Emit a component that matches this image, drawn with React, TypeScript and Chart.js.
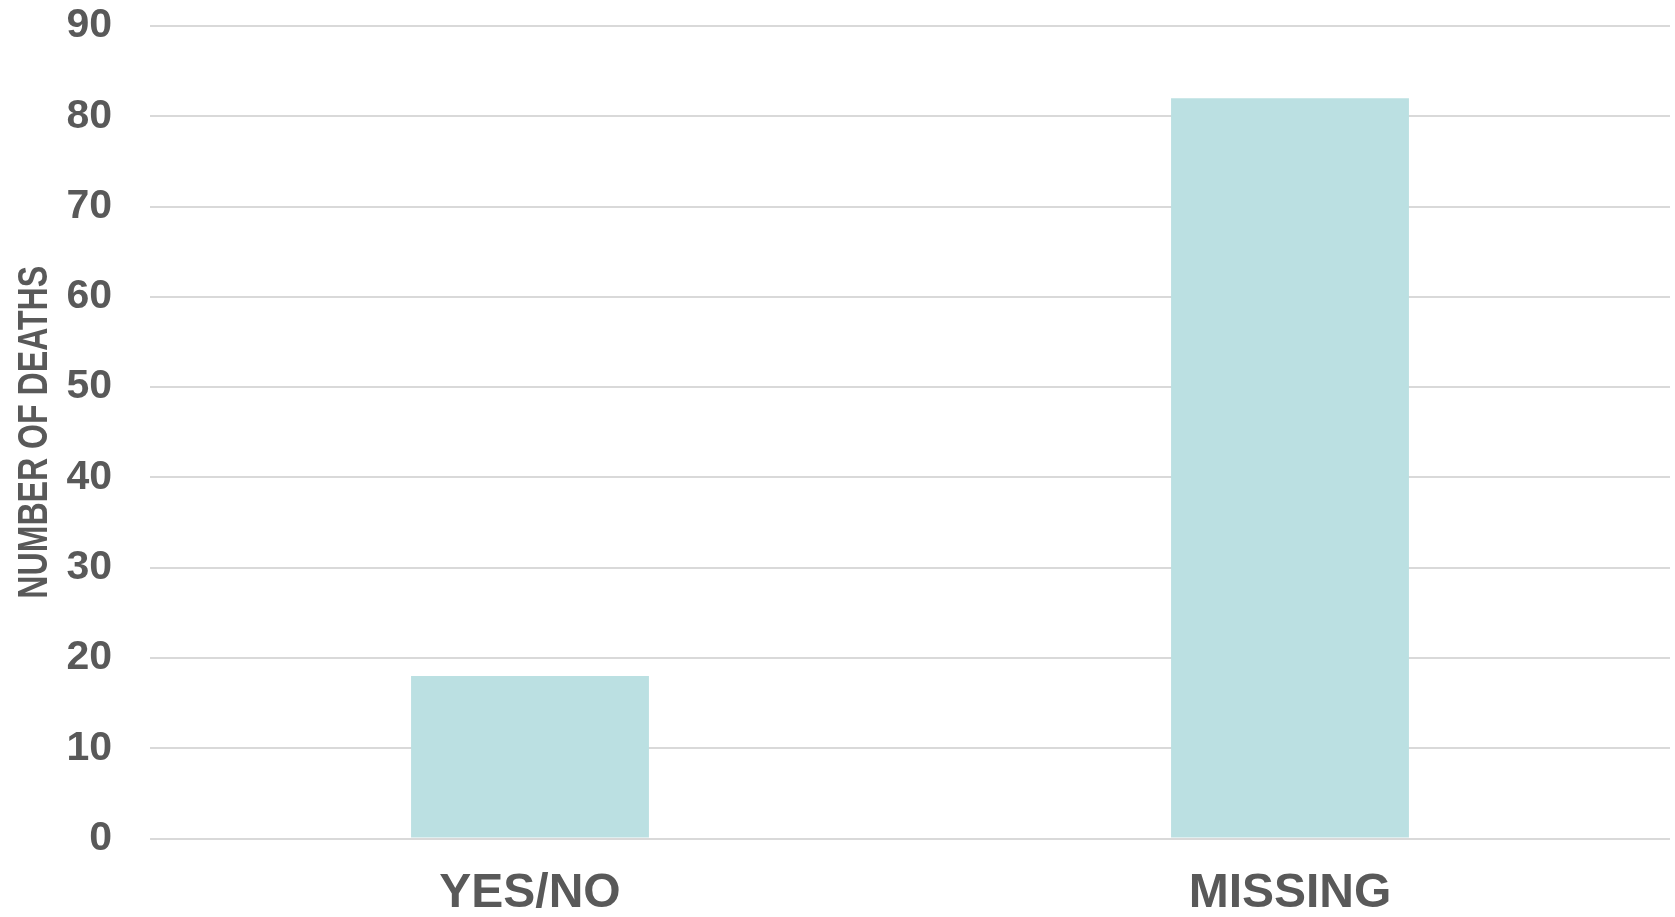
import React, { useEffect, useRef } from "react";
import { Chart, registerables } from "chart.js";

Chart.register(...registerables);

const categories = ["YES/NO", "MISSING"];
const deaths = [18, 82];
const yMin = 0;
const yMax = 90;
const yStep = 10;
const yTitle = "NUMBER OF DEATHS";

const titlePlugin = {
  id: "condensedTitle",
  afterDraw(chart: any) {
    const { ctx, chartArea } = chart;
    const size = 42;
    ctx.save();
    ctx.font = `bold ${size}px 'Liberation Sans', Arial, sans-serif`;
    ctx.fillStyle = "#595959";
    ctx.textAlign = "center";
    ctx.textBaseline = "middle";
    const cy = (chartArea.top + chartArea.bottom) / 2;
    ctx.translate(33, cy);
    ctx.rotate(-Math.PI / 2);
    ctx.scale(0.764, 1);
    ctx.fillText(yTitle, 0, 2);
    ctx.restore();
  },
};

export default function App() {
  const ref = useRef<HTMLCanvasElement | null>(null);

  useEffect(() => {
    document.body.style.margin = "0";
    const ctx = ref.current;
    if (!ctx) return;
    const chart = new Chart(ctx, {
      type: "bar",
      data: {
        labels: categories,
        datasets: [
          {
            data: deaths,
            backgroundColor: "#bbe0e2",
            borderWidth: 0,
            categoryPercentage: 1,
            barPercentage: 0.313,
          },
        ],
      },
      plugins: [titlePlugin],
      options: {
        animation: false,
        responsive: false,
        maintainAspectRatio: false,
        layout: { padding: { top: 26, right: 5, left: 0, bottom: 0 } },
        plugins: {
          legend: { display: false },
          tooltip: { enabled: false },
        },
        scales: {
          x: {
            afterFit: (scale: any) => {
              scale.height = 78.5;
            },
            grid: { display: false, drawTicks: false },
            border: { display: false },
            ticks: {
              color: "#595959",
              padding: 26,
              font: { family: "'Liberation Sans', Arial, sans-serif", size: 48, weight: "bold" },
            },
          },
          y: {
            min: yMin,
            max: yMax,
            afterFit: (scale: any) => {
              scale.width = 150;
            },
            grid: {
              color: "#d9d9d9",
              lineWidth: 2,
              drawTicks: true,
              tickLength: 38,
              tickColor: "rgba(0,0,0,0)",
            },
            border: { display: false },
            ticks: {
              stepSize: yStep,
              color: "#595959",
              padding: 0,
              font: { family: "'Liberation Sans', Arial, sans-serif", size: 41, weight: "bold" },
            },
          },
        },
      },
    });
    return () => chart.destroy();
  }, []);

  return (
    <div style={{ position: "absolute", left: 0, top: 0, width: 1675, height: 917 }}>
      <canvas ref={ref} width={1675} height={917} style={{ width: 1675, height: 917 }} />
    </div>
  );
}
